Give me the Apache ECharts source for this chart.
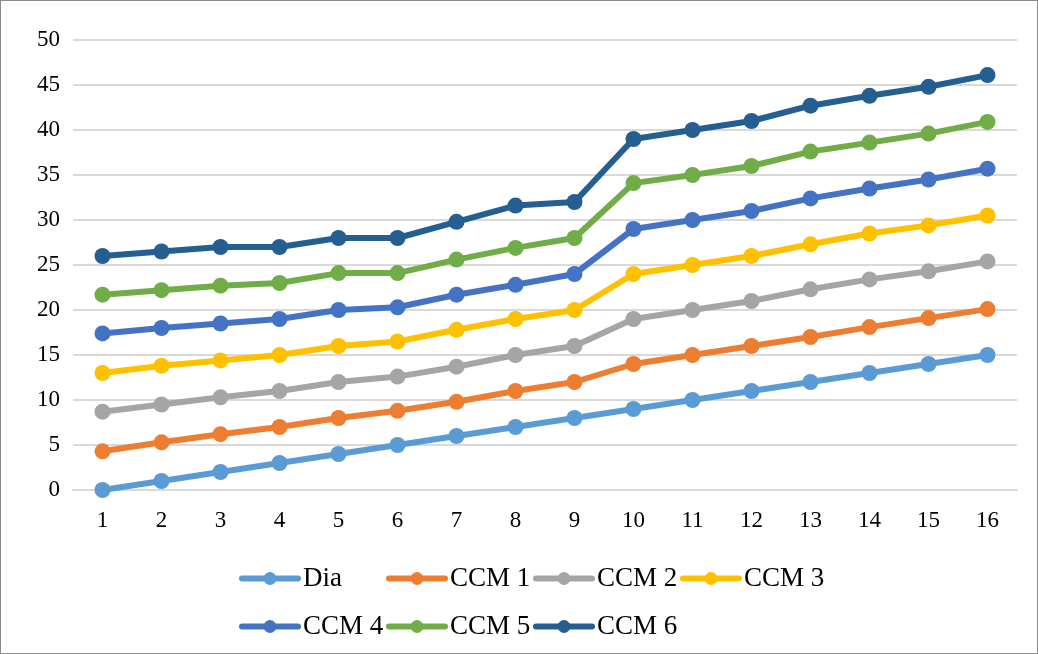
<!DOCTYPE html>
<html>
<head>
    <meta charset="utf-8">
    <title>ECharts</title>
    <script src="https://cdn.jsdelivr.net/npm/echarts@6/dist/echarts.min.js"></script>
    <style>
        html, body { margin: 0; padding: 0; background: #fff; }
        #main { width: 1038px; height: 654px; box-sizing: border-box; border: 1px solid #8c8c8c; }
    </style>
</head>
<body>
    <div id="main"></div>
    <script type="text/javascript">
        // x categories
        var days = ['1', '2', '3', '4', '5', '6', '7', '8', '9', '10', '11', '12', '13', '14', '15', '16'];
        var seriesNames = ['Dia', 'CCM 1', 'CCM 2', 'CCM 3', 'CCM 4', 'CCM 5', 'CCM 6'];
        var yTicks = [0, 5, 10, 15, 20, 25, 30, 35, 40, 45, 50];

        var dia  = [0, 1, 2, 3, 4, 5, 6, 7, 8, 9, 10, 11, 12, 13, 14, 15];
        var ccm1 = [4.3, 5.3, 6.2, 7.0, 8.0, 8.8, 9.8, 11.0, 12.0, 14.0, 15.0, 16.0, 17.0, 18.1, 19.1, 20.1];
        var ccm2 = [8.7, 9.5, 10.3, 11.0, 12.0, 12.6, 13.7, 15.0, 16.0, 19.0, 20.0, 21.0, 22.3, 23.4, 24.3, 25.4];
        var ccm3 = [13.0, 13.8, 14.4, 15.0, 16.0, 16.5, 17.8, 19.0, 20.0, 24.0, 25.0, 26.0, 27.3, 28.5, 29.4, 30.5];
        var ccm4 = [17.4, 18.0, 18.5, 19.0, 20.0, 20.3, 21.7, 22.8, 24.0, 29.0, 30.0, 31.0, 32.4, 33.5, 34.5, 35.7];
        var ccm5 = [21.7, 22.2, 22.7, 23.0, 24.1, 24.1, 25.6, 26.9, 28.0, 34.1, 35.0, 36.0, 37.6, 38.6, 39.6, 40.9];
        var ccm6 = [26.0, 26.5, 27.0, 27.0, 28.0, 28.0, 29.8, 31.6, 32.0, 39.0, 40.0, 41.0, 42.7, 43.8, 44.8, 46.1];

        var allData = [dia, ccm1, ccm2, ccm3, ccm4, ccm5, ccm6];
        var colors = ['#5B9BD5', '#ED7D31', '#A5A5A5', '#FFC000', '#4472C4', '#70AD47', '#255E91'];

        var myChart = echarts.init(document.getElementById('main'));

        // excel-style legend: fixed columns, two rows
        var legendPos = [[233, 559], [380, 559], [527, 559], [674, 559],
                         [233, 607], [380, 607], [527, 607]];
        var legends = seriesNames.map(function (name, i) {
            return {
                data: [name],
                left: legendPos[i][0],
                top: legendPos[i][1],
                itemWidth: 56,
                itemHeight: 16,
                itemGap: 2,
                lineStyle: { width: 6, cap: 'round' },
                textStyle: { fontFamily: 'Liberation Serif', fontSize: 27, color: '#000' }
            };
        });

        var option = {
            color: colors,
            animation: false,
            legend: legends,
            grid: { left: 72, right: 20, top: 39, bottom: 163 },
            xAxis: {
                type: 'category',
                data: days,
                boundaryGap: true,
                axisLine: { lineStyle: { color: '#d9d9d9', width: 2 } },
                axisTick: { show: false },
                axisLabel: { fontFamily: 'Liberation Serif', fontSize: 23, color: '#000', margin: 19 }
            },
            yAxis: {
                type: 'value',
                min: yTicks[0],
                max: yTicks[yTicks.length - 1],
                interval: 5,
                axisLine: { show: false },
                axisTick: { show: false },
                splitLine: { lineStyle: { color: '#d9d9d9', width: 2 } },
                axisLabel: { fontFamily: 'Liberation Serif', fontSize: 23, color: '#000', margin: 13 }
            },
            series: seriesNames.map(function (name, i) {
                return {
                    name: name,
                    type: 'line',
                    data: allData[i],
                    symbol: 'circle',
                    symbolSize: 16,
                    lineStyle: { width: 6, color: colors[i] },
                    itemStyle: { color: colors[i] }
                };
            })
        };
        myChart.setOption(option);
    </script>
</body>
</html>
